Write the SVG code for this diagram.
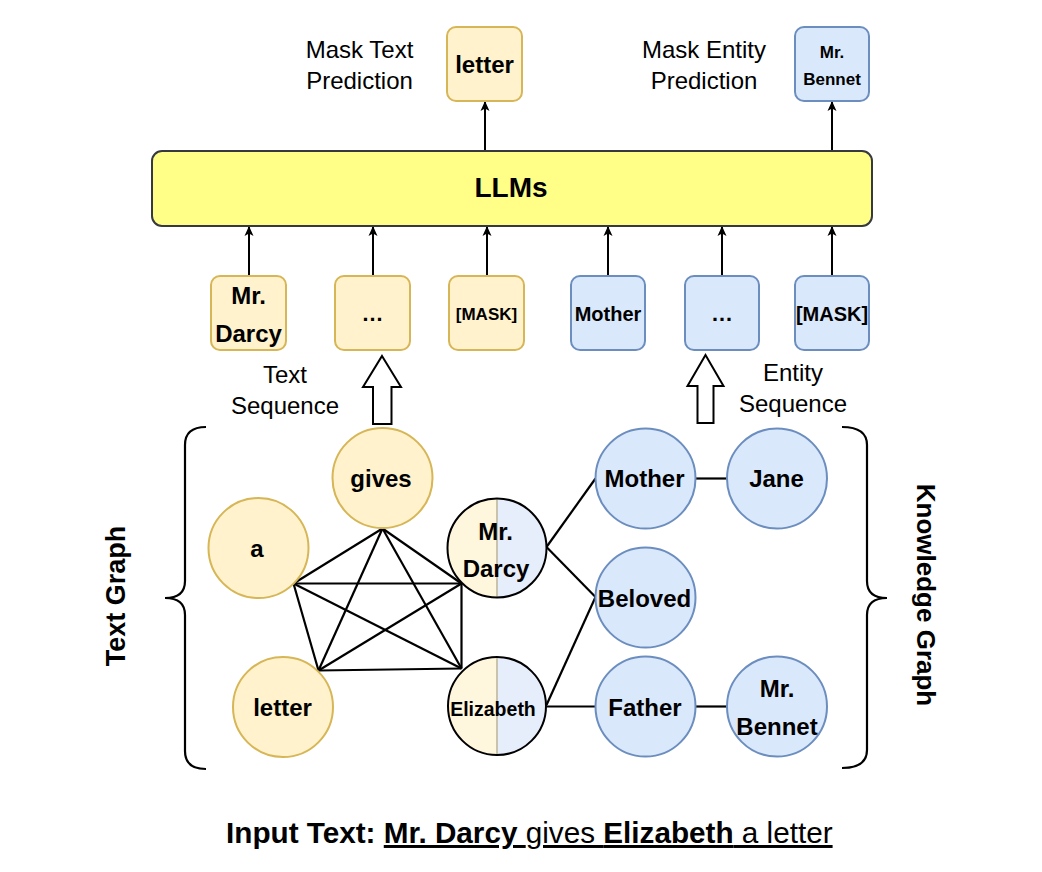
<svg xmlns="http://www.w3.org/2000/svg" width="1042" height="872" viewBox="0 0 1042 872">
<style>
text{font-family:"Liberation Sans",Arial,Helvetica,sans-serif;fill:#000;}
.b{font-weight:bold;}
.m{text-anchor:middle;}
.ybox{fill:#fff2cc;stroke:#d6b656;stroke-width:2;}
.bbox{fill:#dae8fc;stroke:#6c8ebf;stroke-width:2;}
.edge{stroke:#000;stroke-width:2.2;fill:none;}
.arr{stroke:#000;stroke-width:2;fill:none;marker-end:url(#ah);}
.hollow{fill:#fff;stroke:#000;stroke-width:2;stroke-linejoin:miter;}
</style>
<defs>
<marker id="ah" viewBox="0 0 10 10" refX="9" refY="5" markerWidth="10" markerHeight="10" markerUnits="userSpaceOnUse" orient="auto">
<path d="M0,0.5 L10,5 L0,9.5 L2.5,5 Z" fill="#000"/>
</marker>
</defs>
<rect width="1042" height="872" fill="#fff"/>

<g id="connectors">
<line class="arr" x1="485" y1="151" x2="485" y2="102"/>
<line class="arr" x1="832" y1="151" x2="832" y2="102"/>
<line class="arr" x1="249" y1="276" x2="249" y2="227"/>
<line class="arr" x1="373" y1="276" x2="373" y2="227"/>
<line class="arr" x1="487" y1="276" x2="487" y2="227"/>
<line class="arr" x1="608" y1="276" x2="608" y2="227"/>
<line class="arr" x1="722" y1="276" x2="722" y2="227"/>
<line class="arr" x1="832" y1="276" x2="832" y2="227"/>
<polygon class="hollow" points="382,356 401,387 391.5,387 391.5,424 373,424 373,387 363,387"/>
<polygon class="hollow" points="705.5,355 723.5,386 713.5,386 713.5,423 697.5,423 697.5,386 687.5,386"/>
<line class="edge" x1="382.5" y1="528.5" x2="293.5" y2="583.5"/>
<line class="edge" x1="382.5" y1="528.5" x2="318.5" y2="670.5"/>
<line class="edge" x1="382.5" y1="528.5" x2="461.5" y2="583.5"/>
<line class="edge" x1="382.5" y1="528.5" x2="461.5" y2="668.5"/>
<line class="edge" x1="293.5" y1="583.5" x2="461.5" y2="583.5"/>
<line class="edge" x1="293.5" y1="583.5" x2="318.5" y2="670.5"/>
<line class="edge" x1="293.5" y1="583.5" x2="461.5" y2="668.5"/>
<line class="edge" x1="318.5" y1="670.5" x2="461.5" y2="583.5"/>
<line class="edge" x1="318.5" y1="670.5" x2="461.5" y2="668.5"/>
<line class="edge" x1="461.5" y1="583.5" x2="461.5" y2="668.5"/>
<line class="edge" x1="546.5" y1="547" x2="595.5" y2="478.5"/>
<line class="edge" x1="546.5" y1="547" x2="595.5" y2="597"/>
<line class="edge" x1="546.5" y1="705" x2="595.5" y2="597"/>
<line class="edge" x1="546.5" y1="706.5" x2="595.5" y2="706.5"/>
<line class="edge" x1="695.5" y1="478.5" x2="727" y2="478.5"/>
<line class="edge" x1="695.5" y1="706.5" x2="727" y2="706.5"/>
</g>

<g id="llms">
<rect x="152" y="151" width="720" height="75" rx="10" fill="#ffff88" stroke="#36393d" stroke-width="2"/>
<text class="b m" x="511" y="197" font-size="28">LLMs</text>
</g>

<g id="label-mask-text">
<text class="m" x="359.5" y="58" font-size="24">Mask Text</text>
<text class="m" x="359.5" y="89" font-size="24">Prediction</text>
</g>
<g id="out-letter">
<rect class="ybox" x="447" y="27" width="75" height="74" rx="9"/>
<text class="b m" x="484.5" y="73" font-size="24">letter</text>
</g>
<g id="label-mask-entity">
<text class="m" x="704" y="58" font-size="24">Mask Entity</text>
<text class="m" x="704" y="89" font-size="24">Prediction</text>
</g>
<g id="out-bennet">
<rect class="bbox" x="795" y="27" width="74" height="74" rx="9"/>
<text class="b m" x="832" y="58" font-size="17">Mr.</text>
<text class="b m" x="832" y="85" font-size="17">Bennet</text>
</g>

<g id="tok-darcy">
<rect class="ybox" x="211" y="276" width="75" height="74" rx="9"/>
<text class="b m" x="248.5" y="304" font-size="24">Mr.</text>
<text class="b m" x="248.5" y="342" font-size="24">Darcy</text>
</g>
<g id="tok-dots1">
<rect class="ybox" x="335" y="276" width="75" height="74" rx="9"/>
<text class="b m" x="372.5" y="321" font-size="22">…</text>
</g>
<g id="tok-mask1">
<rect class="ybox" x="449" y="276" width="75" height="74" rx="9"/>
<text class="b m" x="486.5" y="320" font-size="17">[MASK]</text>
</g>
<g id="tok-mother">
<rect class="bbox" x="571" y="276" width="74" height="74" rx="9"/>
<text class="b m" x="608" y="321" font-size="20">Mother</text>
</g>
<g id="tok-dots2">
<rect class="bbox" x="685" y="276" width="74" height="74" rx="9"/>
<text class="b m" x="722" y="321" font-size="22">…</text>
</g>
<g id="tok-mask2">
<rect class="bbox" x="795" y="276" width="74" height="74" rx="9"/>
<text class="b m" x="832" y="321" font-size="20">[MASK]</text>
</g>

<g id="label-text-seq">
<text class="m" x="285" y="383" font-size="24">Text</text>
<text class="m" x="285" y="414" font-size="24">Sequence</text>
</g>
<g id="label-entity-seq">
<text class="m" x="793" y="381" font-size="24">Entity</text>
<text class="m" x="793" y="412" font-size="24">Sequence</text>
</g>

<g id="brace-left">
<path class="edge" d="M206,427 Q185,427 185,445 L185,581 Q185,598 165,598 Q185,598 185,615 L185,751 Q185,769 206,769"/>
<text class="b m" x="0" y="0" font-size="27" transform="translate(125,596) rotate(-90)">Text Graph</text>
</g>
<g id="brace-right">
<path class="edge" d="M842,427 Q867,427 867,445 L867,581 Q867,598 887,598 Q867,598 867,615 L867,750 Q867,768 842,768"/>
<text class="b m" x="0" y="0" font-size="26" transform="translate(917,595) rotate(90)">Knowledge Graph</text>
</g>

<g id="node-gives">
<circle class="ybox" cx="382.5" cy="478" r="50"/>
<text class="b m" x="381" y="487" font-size="24">gives</text>
</g>
<g id="node-a">
<circle class="ybox" cx="258.5" cy="548" r="50"/>
<text class="b m" x="257" y="557" font-size="24">a</text>
</g>
<g id="node-letter">
<circle class="ybox" cx="283" cy="707" r="50"/>
<text class="b m" x="282.5" y="716" font-size="24">letter</text>
</g>
<g id="node-mr-darcy">
<path d="M497,498.5 A49.5,49.5 0 0 0 497,597.5 Z" fill="#fff6de"/>
<path d="M497,498.5 A49.5,49.5 0 0 1 497,597.5 Z" fill="#e7eefb"/>
<line x1="497" y1="499" x2="497" y2="597" stroke="#c9c2ad" stroke-width="2"/>
<circle cx="497" cy="548" r="49.5" fill="none" stroke="#000" stroke-width="2"/>
<text class="b m" x="495.5" y="540" font-size="24">Mr.</text>
<text class="b m" x="496" y="577" font-size="24">Darcy</text>
</g>
<g id="node-elizabeth">
<path d="M497,657 A49,49 0 0 0 497,755 Z" fill="#fff6de"/>
<path d="M497,657 A49,49 0 0 1 497,755 Z" fill="#e7eefb"/>
<line x1="497" y1="658" x2="497" y2="754" stroke="#c9c2ad" stroke-width="2"/>
<circle cx="497" cy="706" r="49" fill="none" stroke="#000" stroke-width="2"/>
<text class="b m" x="493" y="716" font-size="19.5">Elizabeth</text>
</g>

<g id="node-mother">
<circle class="bbox" cx="645.5" cy="478.5" r="50"/>
<text class="b m" x="644.5" y="487" font-size="24">Mother</text>
</g>
<g id="node-jane">
<circle class="bbox" cx="777" cy="478.5" r="50"/>
<text class="b m" x="776.5" y="487" font-size="24">Jane</text>
</g>
<g id="node-beloved">
<circle class="bbox" cx="645.5" cy="597.5" r="50"/>
<text class="b m" x="644.5" y="607" font-size="24">Beloved</text>
</g>
<g id="node-father">
<circle class="bbox" cx="645.5" cy="706.5" r="50"/>
<text class="b m" x="645" y="716" font-size="24">Father</text>
</g>
<g id="node-mr-bennet">
<circle class="bbox" cx="777" cy="706.5" r="50"/>
<text class="b m" x="777" y="697" font-size="24">Mr.</text>
<text class="b m" x="777" y="735" font-size="24">Bennet</text>
</g>

<g id="input-text">
<text x="226" y="843" font-size="29.7"><tspan class="b">Input Text: </tspan><tspan class="b" text-decoration="underline">Mr. Darcy </tspan><tspan text-decoration="underline">gives </tspan><tspan class="b" text-decoration="underline">Elizabeth</tspan><tspan text-decoration="underline"> a letter</tspan></text>
</g>
</svg>
